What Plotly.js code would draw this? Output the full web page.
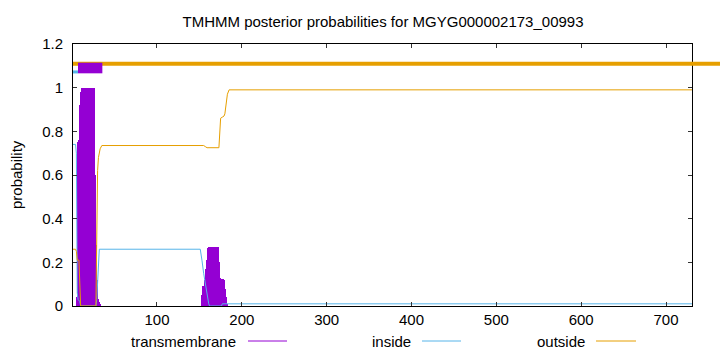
<!DOCTYPE html>
<html>
<head>
<meta charset="utf-8">
<script src="https://cdn.plot.ly/plotly-3.0.1.min.js"></script>
<style>html,body{margin:0;padding:0;background:#fff}#chart{width:720px;height:352px}</style>
</head>
<body>
<div id="chart"></div>
<script>
// ---- data ----
const seqStart = 1;
const seqEnd = 731;

// transmembrane posterior (impulses)
const tmPos = [5,6,7,8,9,10,11,12,13,14,15,16,17,18,19,20,21,22,23,24,25,26,27,28,29,30,31,32,33,
               152,153,154,155,156,157,158,159,160,161,162,163,164,165,166,167,168,169,170,171,172,173,174,175,176,177,178,179,180,181,182,183];
const tmProb = [0.04,0.75,0.76,0.78,0.92,0.98,1,1,1,1,1,1,1,1,1,1,1,1,1,1,1,1,0.96,0.6,0.28,0.12,0.03,0.02,0.01,
                0.05,0.05,0.09,0.09,0.12,0.17,0.21,0.25,0.265,0.27,0.27,0.27,0.27,0.27,0.27,0.27,0.27,0.27,0.27,0.27,0.27,0.27,0.2,0.13,0.125,0.125,0.125,0.125,0.12,0.08,0.04,0.01];

// inside posterior
const inPos  = [1,4,5,6,7,9,10,28,29,30,31,32,151,152,153,155,157,159,161,162,176,177,731];
const inProb = [0.74,0.74,0.70,0.06,0.03,0.02,0,0,0.03,0.12,0.22,0.26,0.26,0.24,0.21,0.15,0.10,0.05,0.01,0,0,0.01,0.01];

// outside posterior
const outPos  = [1,4,5,6,8,9,10,28,29,30,31,33,35,155,157,159,173,174,175,177,179,180,181,183,185,731];
const outProb = [0.26,0.26,0.25,0.21,0.21,0.08,0,0,0.35,0.62,0.68,0.72,0.735,0.735,0.73,0.725,0.725,0.78,0.86,0.865,0.87,0.88,0.92,0.97,0.99,0.99];

// predicted topology segments (start, end) and their level
const topoOutside = [1, 770];   const topoOutsideY = 1.109;
const topoInside  = [1, 6.9];   const topoInsideY  = 1.072;
const topoTM      = [6.9, 35.6]; const topoTMY     = 1.09;

const legendLabels = ["transmembrane", "inside", "outside"];
const titleText = "TMHMM posterior probabilities for MGYG000002173_00993";
const yTitle = "probability";

// ---- styles ----
const cTM = "#9400D3", cIn = "#56B4E9", cOut = "#E69F00";
const font = "Liberation Sans, Arial, Helvetica, sans-serif";
const W = 720, H = 352;
const mL = 73, mR = 0, mT = 44, mB = 46;
const plotRightPx = 692.3;
const domEnd = (plotRightPx - mL) / (W - mL - mR);
const x2End = seqStart + (seqEnd - seqStart) / domEnd;

const traces = [
  {type: "bar", x: tmPos, y: tmProb, width: 1, marker: {color: cTM, line: {width: 0}}, xaxis: "x", yaxis: "y"},
  {type: "scatter", mode: "lines", x: inPos, y: inProb, line: {color: cIn, width: 1}, xaxis: "x", yaxis: "y"},
  {type: "scatter", mode: "lines", x: outPos, y: outProb, line: {color: cOut, width: 1}, xaxis: "x", yaxis: "y"},
  {type: "scatter", mode: "lines", x: topoOutside, y: [topoOutsideY, topoOutsideY], line: {color: cOut, width: 4}, xaxis: "x2", yaxis: "y"},
  {type: "scatter", mode: "lines", x: topoInside, y: [topoInsideY, topoInsideY], line: {color: cIn, width: 3}, xaxis: "x2", yaxis: "y"},
  {type: "scatter", mode: "lines", x: topoTM, y: [topoTMY, topoTMY], line: {color: cTM, width: 10.6}, xaxis: "x2", yaxis: "y"}
];

// legend (gnuplot style: text then line sample)
const legTextRight = [238, 413, 587];
const legSample = [[248, 287], [422, 461], [596, 636]];
const legY = 341;
const legColors = [cTM, cIn, cOut];
const px2paperX = px => (px - mL) / (W - mL - mR);
const px2paperY = py => (H - mB - py) / (H - mT - mB);

const annotations = legendLabels.map((t, i) => ({
  text: t, xref: "paper", yref: "paper", x: px2paperX(legTextRight[i]), y: px2paperY(legY),
  xanchor: "right", yanchor: "middle", showarrow: false, font: {family: font, size: 15, color: "#000"}
}));
annotations.push({
  text: yTitle, xref: "paper", yref: "paper", x: px2paperX(16), y: 0.5, textangle: -90,
  xanchor: "center", yanchor: "middle", showarrow: false, font: {family: font, size: 15, color: "#000"}
});
const shapes = legSample.map((s, i) => ({
  type: "line", xref: "paper", yref: "paper", x0: px2paperX(s[0]), x1: px2paperX(s[1]),
  y0: px2paperY(legY), y1: px2paperY(legY), line: {color: legColors[i], width: 1}
}));

const layout = {
  width: W, height: H,
  margin: {l: mL, r: mR, t: mT, b: mB, pad: 0},
  paper_bgcolor: "#fff", plot_bgcolor: "rgba(0,0,0,0)",
  showlegend: false, bargap: 0,
  font: {family: font, size: 15, color: "#000"},
  title: {text: titleText, font: {family: font, size: 15, color: "#000"},
          xref: "paper", x: px2paperX(383), xanchor: "center", yref: "container", y: 1 - 22 / H, yanchor: "middle"},
  xaxis: {domain: [0, domEnd], range: [seqStart, seqEnd], dtick: 100, tick0: 0,
          ticks: "inside", ticklen: 4, tickcolor: "#333", showline: true, linecolor: "#000", linewidth: 1,
          mirror: "ticks", showgrid: false, zeroline: false, tickfont: {family: font, size: 15, color: "#000"},
          ticklabelstandoff: 0},
  xaxis2: {domain: [0, 1], range: [seqStart, x2End], anchor: "y", visible: false, showgrid: false, zeroline: false},
  yaxis: {range: [0, 1.2], dtick: 0.2, tick0: 0, ticks: "inside", ticklen: 4, tickcolor: "#333",
          showline: true, linecolor: "#000", linewidth: 1, mirror: "ticks", showgrid: false, zeroline: false,
          tickfont: {family: font, size: 15, color: "#000"}, ticklabelstandoff: 6},
  annotations: annotations,
  shapes: shapes
};

Plotly.newPlot("chart", traces, layout, {staticPlot: true, displayModeBar: false});
</script>
</body>
</html>
